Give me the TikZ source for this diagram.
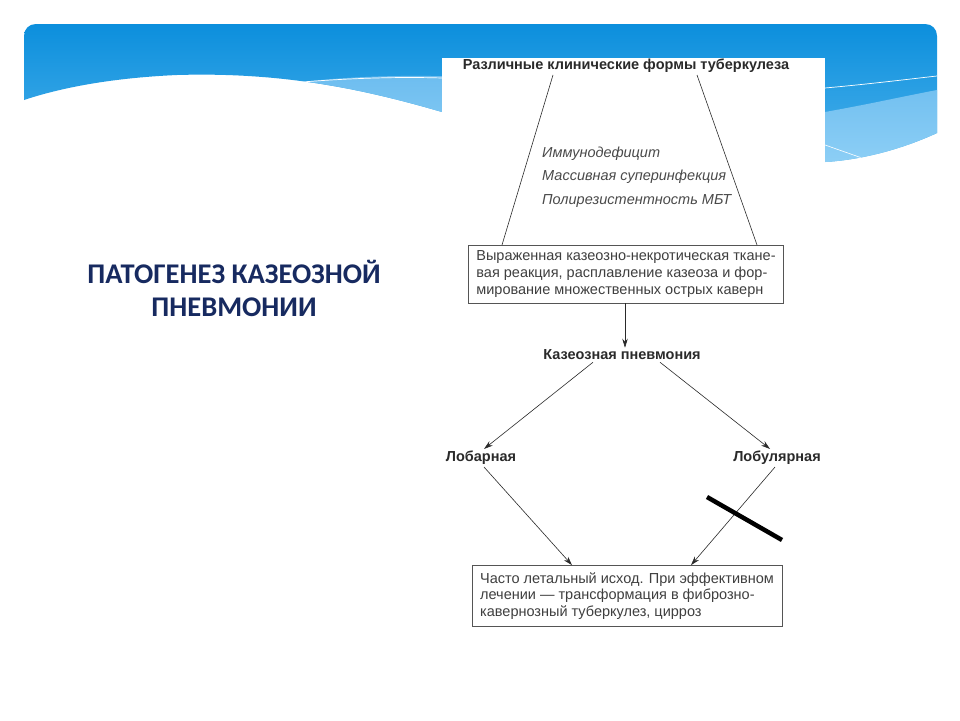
\documentclass[tikz,border=0pt]{standalone}
\usepackage{fontspec}
\setmainfont{Liberation Sans}
\newfontfamily\carlito{Carlito}
\usetikzlibrary{arrows.meta,calc}
\definecolor{bannerTop}{HTML}{0A8EDC}
\definecolor{bannerBot}{HTML}{4FB3EC}
\definecolor{lightTop}{HTML}{6DBDEF}
\definecolor{lightBot}{HTML}{8FD0F6}
\definecolor{titleNavy}{HTML}{172A60}
\definecolor{ink}{HTML}{2A2A2A}
\tikzset{
  titletext/.style={font=\carlito\bfseries\fontsize{28.5}{33}\selectfont, text=titleNavy, align=center, inner sep=0},
  boldlabel/.style={font=\bfseries\fontsize{14.5}{16}\selectfont, text=ink, inner sep=2},
  factortext/.style={font=\itshape\fontsize{14.5}{23.5}\selectfont, text=ink!85, align=left, inner sep=0},
  textbox/.style={draw=ink!80, line width=0.7pt, font=\fontsize{14.5}{16.7}\selectfont, text=ink!90, align=left, inner xsep=8, inner ysep=4},
  conn/.style={draw=ink, line width=0.6pt},
  arr/.style={conn, -{Stealth[length=9pt,width=5.5pt]}},
  crossbar/.style={draw=black, line width=4.5pt}
}
\begin{document}
\begin{tikzpicture}[x=1pt,y=-1pt]
\useasboundingbox (0,0) rectangle (960,720);
\fill[white] (0,0) rectangle (960,720);
% banner
\begin{scope}
\path[clip] (24,100) -- (24,36) .. controls (24,29) and (29,24) .. (36,24) -- (925,24) .. controls (932,24) and (937,29) .. (937,36) -- (937,133)
   .. controls (900,150) and (860,160) .. (825,162) .. controls (650,165) and (520,135) .. (442,112)
   .. controls (360,88) and (280,72) .. (177,75) .. controls (110,78) and (60,88) .. (24,100) -- cycle;
\shade[top color=bannerTop, bottom color=bannerBot] (20,20) rectangle (940,170);
\shade[top color=lightTop, bottom color=lightBot] (285,84) .. controls (360,74) and (440,74) .. (520,80) -- (825,112) .. controls (870,104) and (905,96) .. (937,90) -- (940,170) -- (285,170) -- cycle;
\draw[white, line width=0.7pt] (290,83) .. controls (360,77) and (410,77) .. (442,78) -- (600,80) -- (825,88) .. controls (870,84) and (910,79) .. (937,76);
\draw[white, line width=0.6pt] (825,145) -- (862,158);
\end{scope}
% pasted image area
\fill[white] (442,58) rectangle (825,640);
% title
\node[titletext] (title) at (234,288) {ПАТОГЕНЕЗ КАЗЕОЗНОЙ\\ПНЕВМОНИИ};
% diagram
\node[boldlabel] (forms) at (626,66) {Различные клинические формы туберкулеза};
\coordinate (fl) at (553,75);
\coordinate (fr) at (697,75);
\node[factortext, anchor=west] (factors) at (542,177) {Иммунодефицит\\Массивная суперинфекция\\Полирезистентность МБТ};
\node[textbox, minimum width=314, minimum height=58] (box1) at (626,274) {Выраженная казеозно-некротическая ткане-\\вая реакция, расплавление казеоза и фор-\\мирование множественных острых каверн};
\coordinate (bl) at (502,245);
\coordinate (br) at (757,245);
\draw[conn] (fl) -- (bl);
\draw[conn] (fr) -- (br);
\node[boldlabel] (casp) at (622,355) {Казеозная пневмония};
\node[boldlabel] (lobar) at (481,458) {Лобарная};
\node[boldlabel] (lobul) at (777,458) {Лобулярная};
\node[textbox, minimum width=308, minimum height=61] (box2) at (627,596) {Часто летальный исход. При эффективном\\лечении — трансформация в фиброзно-\\кавернозный туберкулез, цирроз};
\draw[arr] (box1.south -| 625,0) -- (casp.north -| 625,0);
\draw[arr] ([xshift=-29pt]casp.south) -- ([xshift=3pt]lobar.north);
\draw[arr] ([xshift=38pt]casp.south) -- ([xshift=-7pt]lobul.north);
\draw[arr] ([xshift=3pt]lobar.south) -- ([xshift=-55pt]box2.north);
\draw[arr] ([xshift=-2pt]lobul.south) -- ([xshift=64pt]box2.north);
\coordinate (x1) at (707,497);
\coordinate (x2) at (782,540);
\draw[crossbar] (x1) -- (x2);
\end{tikzpicture}
\end{document}
